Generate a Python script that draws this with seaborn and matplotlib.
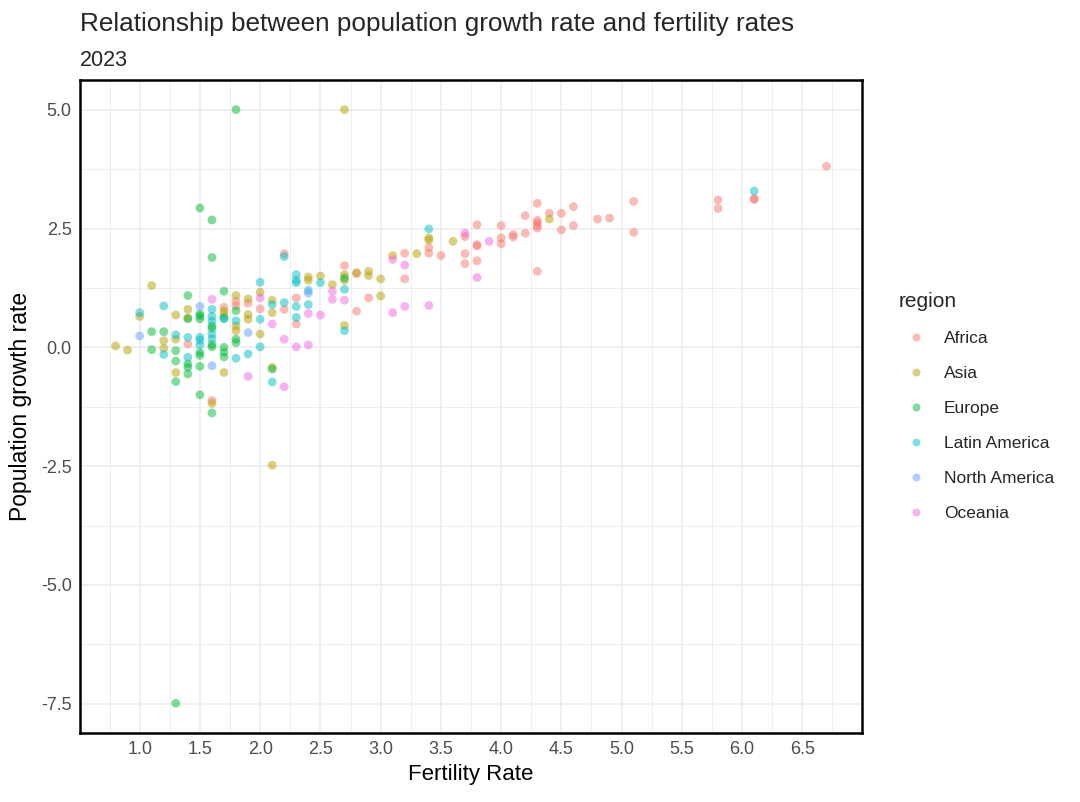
import pandas as pd
import numpy as np
import matplotlib
matplotlib.use("Agg")
import matplotlib.pyplot as plt
import seaborn as sns

# fertility rate / population growth rate per region
africa_fert = [6.7, 6.1, 6.1, 5.8, 5.8, 5.1, 5.1, 4.9, 4.8, 4.6, 4.6, 4.5, 4.5, 4.4, 4.3, 4.3, 4.3, 4.3, 4.3, 4.3,
               4.2, 4.2, 4.1, 4.1, 4.0, 4.0, 4.0, 3.8, 3.8, 3.8, 3.8, 3.7, 3.7, 3.7, 3.5, 3.4, 3.4, 3.2, 3.2,
               2.9, 2.8, 2.8, 2.7, 2.3, 2.3, 2.2, 2.2, 2.0, 1.9, 1.8, 1.8, 1.7, 1.4, 1.6]
africa_growth = [3.81, 3.11, 3.13, 3.10, 2.92, 3.07, 2.42, 2.72, 2.70, 2.96, 2.56, 2.82, 2.47, 2.82, 3.03, 2.67, 2.62, 2.56, 2.51, 1.60,
                 2.77, 2.40, 2.37, 2.32, 2.56, 2.30, 2.18, 2.58, 2.16, 2.13, 1.82, 2.33, 1.97, 1.76, 1.93, 2.10, 1.98, 1.98, 1.44,
                 1.04, 1.55, 0.76, 1.72, 1.04, 0.49, 1.97, 0.80, 0.81, 0.93, 0.97, 0.87, 0.84, 0.07, -1.12]

asia_fert = [2.7, 2.1, 0.8, 0.9, 1.0, 1.1, 1.2, 1.2, 1.3, 1.3, 1.3, 1.4, 1.4, 1.6, 1.7, 1.7, 1.8, 1.8, 1.8,
             1.9, 1.9, 1.9, 2.0, 2.0, 2.1, 2.1, 2.1, 2.4, 2.4, 2.5, 2.6, 2.7, 2.7, 2.7, 2.8, 2.9, 2.9, 3.0, 3.0,
             3.1, 3.3, 3.4, 3.4, 3.6, 4.4, 1.7]
asia_growth = [5.0, -2.48, 0.03, -0.06, 0.65, 1.30, 0.14, -0.02, 0.68, 0.17, -0.53, 0.80, 0.62, -1.18, 0.76, -0.53, 1.09, 0.45, 0.35,
               1.02, 0.69, 0.59, 1.16, 0.28, 0.99, 0.73, -0.42, 1.48, 1.41, 1.50, 1.32, 1.53, 1.41, 0.46, 1.57, 1.60, 1.51, 1.44, 1.08,
               1.93, 1.97, 2.30, 2.26, 2.23, 2.70, 0.68]

europe_fert = [1.8, 1.5, 1.6, 1.6, 1.3, 1.1, 1.1, 1.2, 1.3, 1.3, 1.3, 1.4, 1.4, 1.4, 1.4, 1.4, 1.5, 1.5, 1.5,
               1.5, 1.5, 1.5, 1.5, 1.6, 1.6, 1.6, 1.6, 1.6, 1.7, 1.7, 1.7, 1.7, 1.7, 1.8, 1.8, 1.8, 2.1, 2.7]
europe_growth = [5.0, 2.93, 2.68, 1.89, -7.49, 0.33, -0.05, 0.33, -0.07, -0.29, -0.72, 1.09, -0.35, -0.42, -0.56, 0.60, 0.70, 0.66, 0.60,
                 -0.11, -0.17, -0.40, -1.00, 0.45, 0.40, 0.06, 0.01, -1.38, 1.18, 0.62, 0.00, -0.10, -0.20, 0.77, 0.17, 0.10, -0.46, 1.46]

latam_fert = [6.1, 3.4, 2.7, 2.7, 2.5, 2.4, 2.4, 2.3, 2.3, 2.3, 2.3, 2.3, 2.2, 2.2, 2.1, 2.1, 2.0, 2.0, 2.0,
              1.9, 1.8, 1.8, 1.7, 1.6, 1.6, 1.6, 1.6, 1.6, 1.5, 1.5, 1.5, 1.4, 1.4, 1.3, 1.2, 1.2, 1.0]
latam_growth = [3.29, 2.49, 1.22, 0.35, 1.36, 1.20, 0.90, 1.53, 1.41, 1.36, 0.86, 0.63, 1.91, 0.94, 0.90, -0.73, 1.37, 0.59, 0.01,
                -0.14, 0.56, -0.23, 0.60, 0.80, 0.65, 0.55, 0.28, 0.18, 0.21, 0.15, 0.05, 0.21, -0.21, 0.26, 0.87, -0.15, 0.73]

namerica_fert = [1.0, 1.5, 1.6, 1.9, 2.4]
namerica_growth = [0.24, 0.86, -0.39, 0.31, 1.14]

oceania_fert = [3.9, 3.8, 3.7, 3.4, 3.2, 3.2, 3.1, 3.1, 2.7, 2.6, 2.6, 2.5, 2.4, 2.4, 2.3, 2.2, 2.2, 2.1, 2.0, 1.9, 1.6]
oceania_growth = [2.23, 1.47, 2.40, 0.88, 1.73, 0.86, 1.85, 0.73, 0.99, 1.18, 1.01, 0.68, 0.71, 0.05, 0.01, 0.17, -0.83, 0.49, 1.04, -0.61, 1.01]

regions = ["Africa", "Asia", "Europe", "Latin America", "North America", "Oceania"]
colors = ["#F8766D", "#B79F00", "#00BA38", "#00BFC4", "#619CFF", "#F564E3"]

x_ticks = [1.0, 1.5, 2.0, 2.5, 3.0, 3.5, 4.0, 4.5, 5.0, 5.5, 6.0, 6.5]
y_ticks = [-7.5, -5.0, -2.5, 0.0, 2.5, 5.0]

frames = []
for name, f, g in zip(regions,
                      [africa_fert, asia_fert, europe_fert, latam_fert, namerica_fert, oceania_fert],
                      [africa_growth, asia_growth, europe_growth, latam_growth, namerica_growth, oceania_growth]):
    frames.append(pd.DataFrame({"fertility": f, "growth": g, "region": name}))
df = pd.concat(frames, ignore_index=True)

sns.set_theme(style="white")
plt.rcParams['font.family'] = ['Liberation Sans', 'DejaVu Sans']

fig = plt.figure(figsize=(10.8, 8.02), dpi=100)
ax = fig.add_axes([80 / 1080, 1 - 733 / 802, (862 - 80) / 1080, (733 - 80) / 802])

sns.scatterplot(data=df, x="fertility", y="growth", hue="region", hue_order=regions,
                palette=dict(zip(regions, colors)), alpha=0.5, s=40, linewidth=0, ax=ax, zorder=3)

# ggplot-like expanded limits
xmin, xmax = min(df.fertility), max(df.fertility)
ymin, ymax = min(df.growth), max(df.growth)
xpad, ypad = (xmax - xmin) * 0.05, (ymax - ymin) * 0.05
ax.set_xlim(xmin - xpad, xmax + xpad)
ax.set_ylim(ymin - ypad, ymax + ypad)

ax.set_xticks(x_ticks)
ax.set_xticklabels([f"{t:.1f}" for t in x_ticks])
ax.set_yticks(y_ticks)
ax.set_yticklabels([f"{t:.1f}" for t in y_ticks])
ax.set_xticks(np.arange(0.75, 7.0, 0.5), minor=True)
ax.set_yticks(np.arange(-6.25, 6.0, 2.5), minor=True)
ax.grid(which="major", color="#EBEBEB", linewidth=1.1, zorder=0)
ax.grid(which="minor", color="#EBEBEB", linewidth=0.6, zorder=0)
ax.tick_params(axis="both", which="both", length=0, labelsize=13, labelcolor="#4D4D4D", pad=6)

for sp in ax.spines.values():
    sp.set_visible(True)
    sp.set_color("black")
    sp.set_linewidth(1.8)

ax.set_xlabel("Fertility Rate", fontsize=16, color="black", labelpad=4)
ax.set_ylabel("Population growth rate", fontsize=16.5, color="black", labelpad=6)

fig.text(80 / 1080, 1 - 24 / 802, "Relationship between population growth rate and fertility rates",
         fontsize=18.8, va="center", ha="left")
fig.text(80 / 1080, 1 - 60 / 802, "2023", fontsize=15.5, va="center", ha="left")

sns.move_legend(ax, "center left", bbox_to_anchor=(1.025, 0.5), frameon=False, title="region",
                fontsize=12.5, title_fontsize=15, labelspacing=1.15, handletextpad=0.6,
                borderaxespad=0.6, alignment="left", markerscale=0.9)

fig.savefig("out.png", dpi=100)
plt.close(fig)
